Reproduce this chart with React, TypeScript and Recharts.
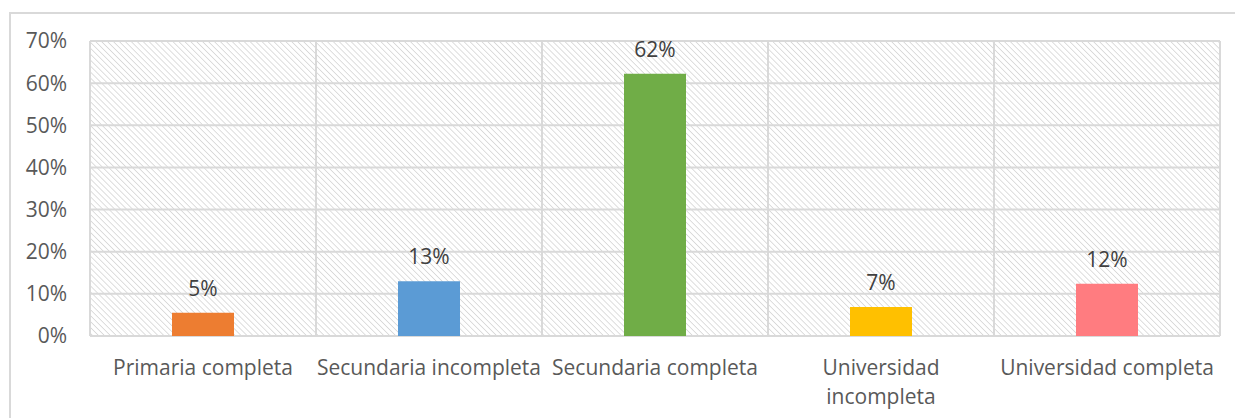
import React from "react";
import {
  BarChart,
  Bar,
  XAxis,
  YAxis,
  CartesianGrid,
  Cell,
  LabelList,
} from "recharts";

const categories = [
  "Primaria completa",
  "Secundaria incompleta",
  "Secundaria completa",
  "Universidad incompleta",
  "Universidad completa",
];
// label lines for the x axis (one wraps in the original)
const categoryLines = [
  ["Primaria completa"],
  ["Secundaria incompleta"],
  ["Secundaria completa"],
  ["Universidad", "incompleta"],
  ["Universidad completa"],
];
const values = [0.055, 0.13, 0.622, 0.069, 0.124];
const valueLabels = ["5%", "13%", "62%", "7%", "12%"];
const barColors = ["#ED7D31", "#5B9BD5", "#70AD47", "#FFC000", "#FF7C80"];
const yTicks = [0, 0.1, 0.2, 0.3, 0.4, 0.5, 0.6, 0.7];

const data = categories.map((name, i) => ({
  name,
  value: values[i],
  label: valueLabels[i],
}));

const FONT = "'Open Sans', 'Noto Sans', sans-serif";
const GRID = "#d9d9d9";
const FS = 21;

function CategoryTick(props: any) {
  const { x, y, payload } = props;
  const lines = categoryLines[payload.index] ?? [payload.value];
  return (
    <text
      x={x}
      y={y}
      textAnchor="middle"
      fill="#595959"
      fontSize={FS}
      fontFamily={FONT}
    >
      {lines.map((l: string, i: number) => (
        <tspan key={i} x={x} dy={i === 0 ? "0.71em" : 29}>
          {l}
        </tspan>
      ))}
    </text>
  );
}

export default function App() {
  return (
    <div
      style={{
        position: "fixed",
        inset: 0,
        overflow: "hidden",
        background: "#fff",
      }}
    >
      <svg width={0} height={0} style={{ position: "absolute" }}>
        <defs>
          <pattern
            id="hatch"
            width={4.2}
            height={4.2}
            patternUnits="userSpaceOnUse"
            patternTransform="rotate(-45)"
          >
            <rect width={4.2} height={4.2} fill="#fff" />
            <line x1={0} y1={0} x2={0} y2={4.2} stroke="#d6d6d6" strokeWidth={1.6} />
          </pattern>
        </defs>
      </svg>
      <div
        style={{
          position: "absolute",
          left: 9,
          top: 12,
          width: 1240,
          height: 420,
          borderLeft: `2px solid ${GRID}`,
          borderTop: `2px solid ${GRID}`,
        }}
      />
      <div style={{ position: "absolute", left: 0, top: 0 }}>
        <BarChart
          width={1235}
          height={418}
          data={data}
          margin={{ top: 41, right: 15, bottom: 0, left: 0 }}
          barSize={62}
        >
          <CartesianGrid
            stroke={GRID}
            strokeWidth={2}
            fill="url(#hatch)"
            fillOpacity={1}
            verticalCoordinatesGenerator={({ offset }: any) =>
              categories
                .map((_, i) => offset.left + (i * offset.width) / categories.length)
                .concat([offset.left + offset.width])
            }
          />
          <XAxis
            dataKey="name"
            axisLine={false}
            tickLine={false}
            tickSize={0}
            tickMargin={24}
            height={82}
            interval={0}
            tick={<CategoryTick />}
          />
          <YAxis
            type="number"
            domain={[0, 0.7]}
            ticks={yTicks}
            axisLine={false}
            tickLine={false}
            tickSize={0}
            tickMargin={23}
            width={90}
            tickFormatter={(v: number) => `${Math.round(v * 100)}%`}
            tick={{ fill: "#595959", fontSize: FS, fontFamily: FONT }}
          />
          <Bar dataKey="value" isAnimationActive={false}>
            {data.map((d, i) => (
              <Cell key={d.name} fill={barColors[i]} />
            ))}
            <LabelList
              dataKey="label"
              position="top"
              offset={17}
              fill="#404040"
              fontSize={FS}
              fontFamily={FONT}
            />
          </Bar>
        </BarChart>
      </div>
    </div>
  );
}
